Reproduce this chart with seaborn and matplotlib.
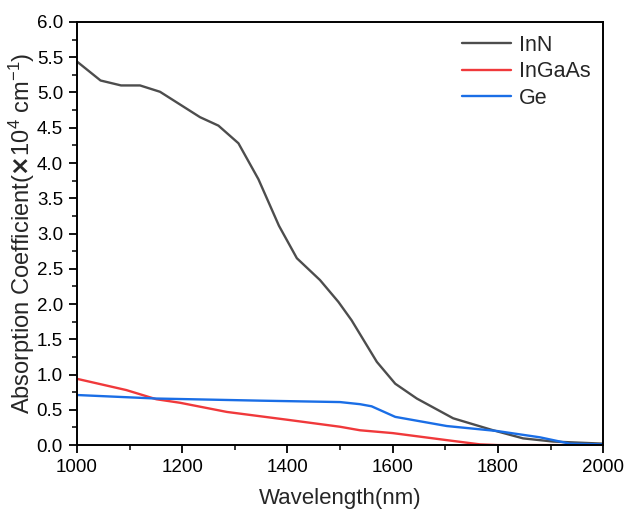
import matplotlib
matplotlib.use("Agg")
import matplotlib.pyplot as plt
import seaborn as sns
import pandas as pd
from matplotlib.ticker import MultipleLocator, FormatStrFormatter

# Data
inn_x = [1000, 1045, 1084, 1120, 1158, 1234, 1269, 1307, 1345, 1384, 1418, 1462, 1497,
         1522, 1570, 1605, 1646, 1715, 1791, 1848, 1905, 2000]
inn_y = [5.44, 5.17, 5.10, 5.10, 5.01, 4.65, 4.53, 4.28, 3.77, 3.11, 2.65, 2.34, 2.03,
         1.77, 1.18, 0.87, 0.66, 0.38, 0.21, 0.095, 0.05, 0.02]
ingaas_x = [1000, 1094, 1151, 1196, 1285, 1399, 1500, 1538, 1600, 1703, 1766, 1800, 2000]
ingaas_y = [0.94, 0.78, 0.65, 0.60, 0.47, 0.36, 0.26, 0.21, 0.17, 0.07, 0.01, 0.0, 0.0]
ge_x = [1000, 1151, 1348, 1500, 1538, 1560, 1605, 1703, 1798, 1880, 1937, 2000]
ge_y = [0.71, 0.66, 0.63, 0.61, 0.58, 0.55, 0.40, 0.27, 0.20, 0.11, 0.02, 0.01]

series_names = ["InN", "InGaAs", "Ge"]
colors = ["#4d4d4d", "#f0393b", "#1a6ee6"]

frames = []
for name, xs, ys in zip(series_names, [inn_x, ingaas_x, ge_x], [inn_y, ingaas_y, ge_y]):
    frames.append(pd.DataFrame({"Wavelength": xs, "Abs": ys, "Material": name}))
df = pd.concat(frames, ignore_index=True)

sns.set_style("ticks")
plt.rcParams["font.family"] = ["Liberation Sans", "DejaVu Sans"]
plt.rcParams["mathtext.fontset"] = "custom"
plt.rcParams["mathtext.rm"] = "Liberation Sans"
plt.rcParams["mathtext.it"] = "Liberation Sans:italic"

fig = plt.figure(figsize=(6.25, 5.11), dpi=100)
ax = fig.add_axes([0.123, 0.129, 0.842, 0.828])

sns.lineplot(data=df, x="Wavelength", y="Abs", hue="Material", palette=colors,
             hue_order=series_names, estimator=None, sort=False, linewidth=1.7, ax=ax)

ax.set_xlim(1000, 2000)
ax.set_ylim(0, 6.0)
ax.xaxis.set_major_locator(MultipleLocator(200))
ax.xaxis.set_minor_locator(MultipleLocator(100))
ax.yaxis.set_major_locator(MultipleLocator(0.5))
ax.yaxis.set_minor_locator(MultipleLocator(0.25))
ax.yaxis.set_major_formatter(FormatStrFormatter("%.1f"))

for s in ax.spines.values():
    s.set_visible(True)
    s.set_linewidth(1.4)
    s.set_color("black")
ax.tick_params(which="major", direction="out", length=6, width=1.3, labelsize=13.5,
               colors="black", pad=4)
ax.tick_params(which="minor", direction="out", length=3.5, width=1.3)

ax.set_xlabel("Wavelength(nm)", fontsize=16, labelpad=9)
ax.set_ylabel(r"Absorption Coefficient($\mathbf{\times}$10$^{4}$ cm$^{-1}$)", fontsize=17, labelpad=0)

leg = ax.legend(loc="upper right", frameon=False, fontsize=15.5, handlelength=2.3,
                handletextpad=0.35, borderaxespad=0.2, labelspacing=0.25)

fig.savefig("out.png", dpi=100)
